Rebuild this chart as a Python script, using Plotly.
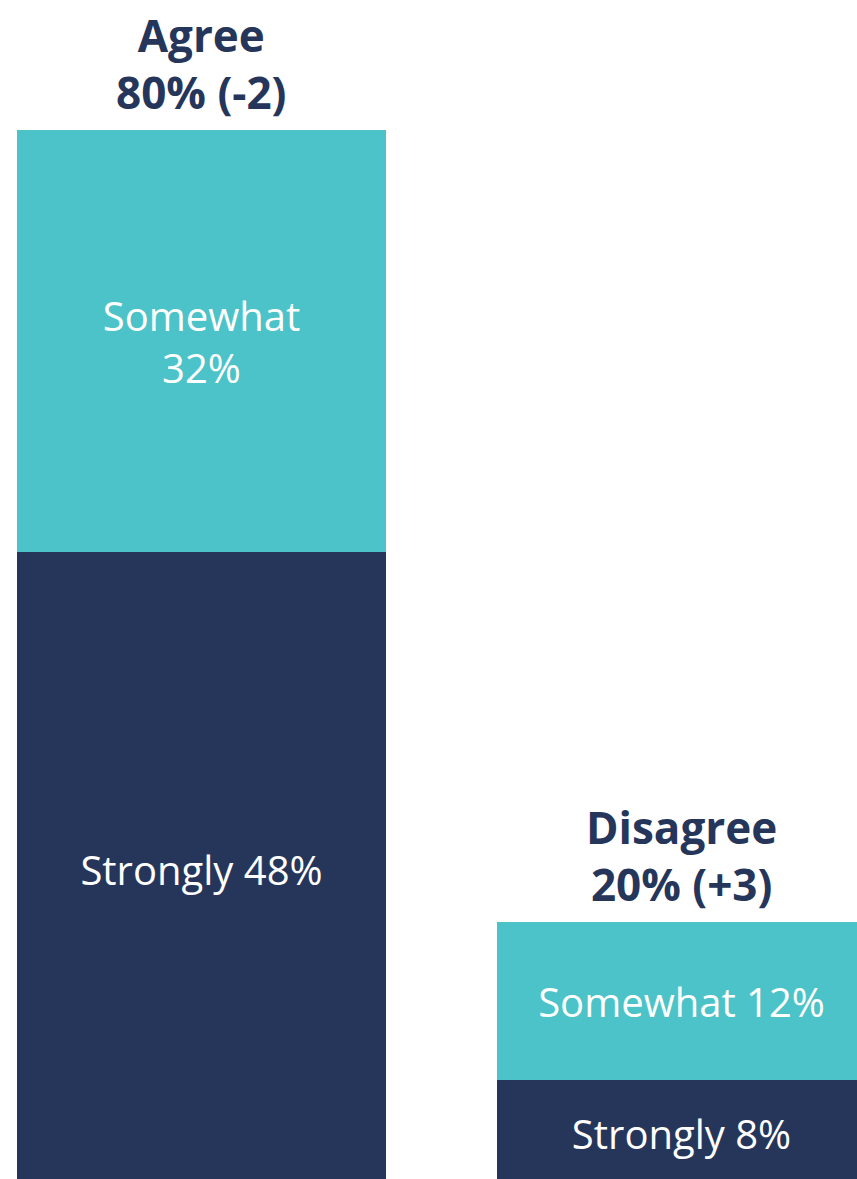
import plotly.graph_objects as go

categories = ["Agree", "Disagree"]
strongly = [48, 8]
somewhat = [32, 12]
totals = [80, 20]
changes = ["-2", "+3"]
strongly_labels = ["Strongly 48%", "Strongly 8%"]
somewhat_labels = ["Somewhat<br>32%", "Somewhat 12%"]

NAVY = "#26365B"
TEAL = "#4CC3C8"
FONT = "Open Sans"

fig = go.Figure()
fig.add_trace(go.Bar(
    x=categories, y=strongly, marker=dict(color=NAVY, line=dict(width=0)),
    text=strongly_labels, texttemplate="%{text}", textposition="inside",
    insidetextanchor="middle", textangle=0,
    textfont=dict(family=FONT, size=40, color="white"), width=0.769,
))
fig.add_trace(go.Bar(
    x=categories, y=somewhat, marker=dict(color=TEAL, line=dict(width=0)),
    text=somewhat_labels, texttemplate="%{text}", textposition="inside",
    insidetextanchor="middle", textangle=0,
    textfont=dict(family=FONT, size=40, color="white"), width=0.769,
))

for cat, tot, ch in zip(categories, totals, changes):
    fig.add_annotation(
        x=cat, y=tot, text=f"<b>{cat}<br>{tot}% ({ch})</b>",
        showarrow=False, yanchor="bottom", yshift=6,
        font=dict(family=FONT, size=44, color=NAVY), align="center",
    )

fig.update_layout(
    barmode="stack", width=857, height=1179,
    margin=dict(l=0, r=0, t=0, b=0),
    paper_bgcolor="white", plot_bgcolor="white", showlegend=False,
    xaxis=dict(visible=False, range=[-0.4198, 1.3656]),
    yaxis=dict(visible=False, range=[0.53, 89.85]),
    uniformtext=dict(minsize=10, mode="show"),
)
fig.write_html(
    "out.html",
    config={"displayModeBar": False},
    post_script="document.body.style.margin='0';document.body.style.overflow='hidden';",
)
